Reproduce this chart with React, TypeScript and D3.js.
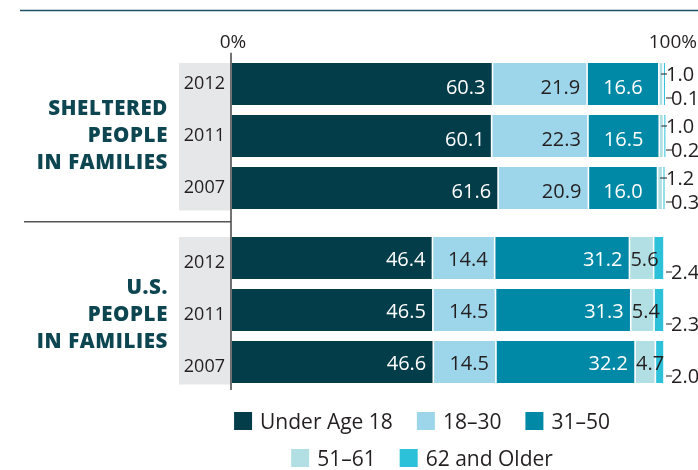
import { useMemo } from 'react';
import * as d3 from 'd3';

const SERIES = ['Under Age 18', '18–30', '31–50', '51–61', '62 and Older'];
const COLORS = ['#033d49', '#9dd6ea', '#0089a6', '#b2dfe3', '#2cc0d9'];
const LABEL_COLORS = ['#ffffff', '#231f20', '#ffffff', '#231f20', '#231f20'];
const YEARS = ['2012', '2011', '2007'];
const GROUP_LABELS = [
  ['SHELTERED', 'PEOPLE', 'IN FAMILIES'],
  ['U.S.', 'PEOPLE', 'IN FAMILIES'],
];
const AXIS_TICKS = [0, 100];

// sheltered people in families, by year (2012, 2011, 2007)
const shelteredUnder18 = [60.3, 60.1, 61.6];
const sheltered18to30 = [21.9, 22.3, 20.9];
const sheltered31to50 = [16.6, 16.5, 16.0];
const sheltered51to61 = [1.0, 1.0, 1.2];
const sheltered62plus = [0.1, 0.2, 0.3];

// all U.S. people in families
const usUnder18 = [46.4, 46.5, 46.6];
const us18to30 = [14.4, 14.5, 14.5];
const us31to50 = [31.2, 31.3, 32.2];
const us51to61 = [5.6, 5.4, 4.7];
const us62plus = [2.4, 2.3, 2.0];

const GROUP_SERIES = [
  [shelteredUnder18, sheltered18to30, sheltered31to50, sheltered51to61, sheltered62plus],
  [usUnder18, us18to30, us31to50, us51to61, us62plus],
];

const WIDTH = 698;
const HEIGHT = 470;
const X_LEFT = 232;
const X_RIGHT = 664;
const GROUP_TOP = [63, 237];
const GROUP_SHIFT = [5, 10];
const BAR_STEP = 52;
const BAR_H = 42;
const CENTERED = [[2], []];
const FONT = "'Open Sans', sans-serif";
const DARK = '#231f20';
const TEAL = '#0d4551';

let ctx: CanvasRenderingContext2D | null = null;
function textWidth(s: string, font: string) {
  if (!ctx) ctx = document.createElement('canvas').getContext('2d');
  if (!ctx) return s.length * 10;
  ctx.font = font;
  return ctx.measureText(s).width;
}

export default function App() {
  const x = d3.scaleLinear().domain([0, 100]).range([X_LEFT, X_RIGHT]);

  const groups = useMemo(() => GROUP_SERIES.map((series, g) => {
    const rows = YEARS.map((year, r) => {
      const row: Record<string, number | string> = { year };
      SERIES.forEach((s, i) => { row[s] = series[i][r]; });
      return row;
    });
    const stacked = d3.stack<Record<string, number | string>>().keys(SERIES)(rows as any);
    const y = d3.scaleBand<string>()
      .domain(YEARS)
      .range([GROUP_TOP[g], GROUP_TOP[g] + BAR_STEP * 3 - (BAR_STEP - BAR_H)])
      .paddingInner((BAR_STEP - BAR_H) / BAR_STEP);
    return { stacked, y };
  }), []);

  const legendFont = `21px ${FONT}`;
  const legendRows = [[0, 1, 2], [3, 4]];
  const legendCenter = 422;
  const legendY = [412, 449];

  const segLabel = (g: number, i: number, r: number, d: number[], by: number) => {
    const w = x(d[1]) - x(d[0]);
    const value = GROUP_SERIES[g][i][r].toFixed(1);
    if (w >= 30) {
      const centered = CENTERED[g].includes(i);
      return (
        <text
          x={centered ? (x(d[0]) + x(d[1])) / 2 : x(d[1]) - 7}
          y={by + 31 - (g === 1 ? 2 : 0)}
          textAnchor={centered ? 'middle' : 'end'}
          fontSize={20}
          fill={LABEL_COLORS[i]}
        >
          {value}
        </text>
      );
    }
    if (w >= 12) {
      return (
        <text x={x(d[0]) + 1} y={by + 29} fontSize={20} fill={DARK}>
          {value}
        </text>
      );
    }
    const upper = i === 3;
    const ly = upper ? by + 11 : by + 35;
    const lx0 = upper ? (x(d[0]) + x(d[1])) / 2 : X_RIGHT + 2;
    const lx1 = upper ? X_RIGHT + 3 : X_RIGHT + 8;
    return (
      <g>
        <line x1={lx0} x2={lx1} y1={ly} y2={ly} stroke={DARK} strokeWidth={1} />
        <text x={lx1 - 1} y={ly + 6.5} fontSize={20} fill={DARK}>
          {value}
        </text>
      </g>
    );
  };

  return (
    <svg width={WIDTH} height={HEIGHT} style={{ position: 'fixed', left: 0, top: 0 }} fontFamily={FONT}>
      <line x1={20} x2={WIDTH} y1={10.5} y2={10.5} stroke="#1d5063" strokeWidth={1.4} />

      {groups.map(({ stacked, y }, g) => {
        const top = y(YEARS[0]) ?? 0;
        const bottom = (y(YEARS[YEARS.length - 1]) ?? 0) + y.bandwidth();
        const mid = (top + bottom) / 2;
        return (
          <g key={g}>
            <rect x={179} y={top} width={X_LEFT - 1 - 179} height={bottom - top + 1.5} fill="#e6e7e8" />
            {GROUP_LABELS[g].map((t, li) => (
              <text
                key={t}
                x={168}
                y={mid + GROUP_SHIFT[g] + 1 + (li - 1) * 27}
                textAnchor="end"
                fontSize={20.5}
                fontWeight={800}
                letterSpacing={0.6}
                fill={TEAL}
              >
                {t}
              </text>
            ))}
            {YEARS.map((yr) => (
              <text
                key={yr}
                x={225}
                y={(y(yr) ?? 0) + y.bandwidth() / 2 + GROUP_SHIFT[g]}
                textAnchor="end"
                fontSize={18}
                fill={DARK}
              >
                {yr}
              </text>
            ))}
            {stacked.map((layer, i) => (
              <g key={layer.key}>
                {layer.map((d, r) => {
                  const by = y(YEARS[r]) ?? 0;
                  const x0 = x(d[0]) + (i > 0 ? 0.8 : 0);
                  const x1 = x(d[1]) - 0.8;
                  return (
                    <rect
                      key={YEARS[r]}
                      x={x0}
                      y={by}
                      width={Math.max(1, x1 - x0)}
                      height={y.bandwidth()}
                      fill={COLORS[i]}
                    />
                  );
                })}
              </g>
            ))}
            {stacked.map((layer, i) => (
              <g key={`l-${layer.key}`}>
                {layer.map((d, r) => (
                  <g key={YEARS[r]}>{segLabel(g, i, r, d as unknown as number[], y(YEARS[r]) ?? 0)}</g>
                ))}
              </g>
            ))}
          </g>
        );
      })}

      <line x1={24} x2={X_LEFT - 1} y1={221.7} y2={221.7} stroke="#555" strokeWidth={1.4} />
      <line x1={X_LEFT - 1} x2={X_LEFT - 1} y1={52.7} y2={390} stroke="#444" strokeWidth={1.5} />

      {AXIS_TICKS.map((t) => (
        <text
          key={t}
          x={t === 0 ? x(t) + 1 : WIDTH - 1}
          y={48}
          textAnchor={t === 0 ? 'middle' : 'end'}
          fontSize={19}
          fill={DARK}
        >
          {`${t}%`}
        </text>
      ))}

      {legendRows.map((items, ri) => {
        const widths = items.map((i) => 18 + 8 + textWidth(SERIES[i], legendFont));
        const total = d3.sum(widths) + 24 * (items.length - 1);
        let cx = legendCenter - total / 2;
        return (
          <g key={ri}>
            {items.map((i, k) => {
              const ix = cx;
              cx += widths[k] + 24;
              return (
                <g key={i}>
                  <rect x={ix} y={legendY[ri]} width={18} height={18} fill={COLORS[i]} />
                  <text x={ix + 26} y={legendY[ri] + 16.5} fontSize={21} fill={DARK}>
                    {SERIES[i]}
                  </text>
                </g>
              );
            })}
          </g>
        );
      })}
    </svg>
  );
}
